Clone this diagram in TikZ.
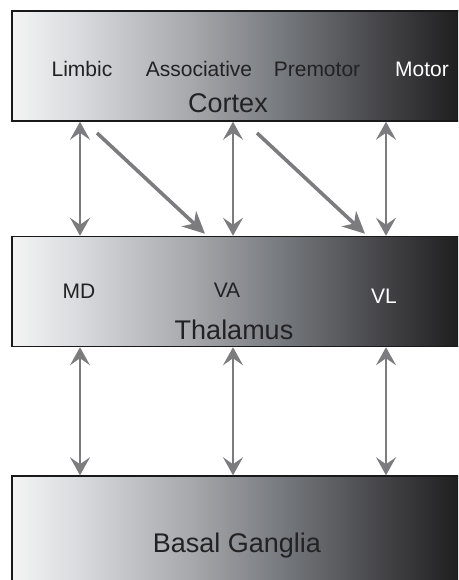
\documentclass[tikz,border=0pt]{standalone}
\usepackage{fontspec}
\setmainfont{Liberation Sans}
\usetikzlibrary{calc,arrows.meta,positioning}

\definecolor{sh0}{RGB}{244,244,244}
\definecolor{sh1}{RGB}{218,220,223}
\definecolor{sh2}{RGB}{166,168,172}
\definecolor{sh3}{RGB}{114,117,121}
\definecolor{sh4}{RGB}{70,70,74}
\definecolor{sh5}{RGB}{30,30,30}
\definecolor{arrowgray}{RGB}{124,124,127}
\definecolor{txtdark}{RGB}{34,34,36}

\pgfdeclarehorizontalshading{brainshade}{100bp}{%
  color(0bp)=(sh0); color(25bp)=(sh0); color(32bp)=(sh1); color(45bp)=(sh2);
  color(56bp)=(sh3); color(66bp)=(sh4); color(75bp)=(sh5); color(100bp)=(sh5)}

\begin{document}
\begin{tikzpicture}[x=1pt,y=1pt,
  region/.style={draw=black!90,line width=1.5pt,shade,shading=brainshade,
    minimum width=448pt,minimum height=110pt,inner sep=0pt},
  lbl/.style={anchor=base,inner sep=0pt,text=txtdark,font=\fontsize{21}{25}\selectfont},
  title/.style={anchor=base,inner sep=0pt,text=txtdark,font=\fontsize{27}{32}\selectfont},
  link/.style={{Stealth[length=18pt,width=20pt,inset=7pt]}-{Stealth[length=18pt,width=20pt,inset=7pt]},
    draw=arrowgray,fill=arrowgray,line width=1.8pt},
  proj/.style={-{Stealth[length=22pt,width=21pt,inset=7pt]},draw=arrowgray,fill=arrowgray,line width=3.6pt}]

  \clip (0,0) rectangle (458,-580);

  % the three boxes
  \node[region] (cortex) at (236,-66) {};
  \node[region] (thalamus) [below=114pt of cortex] {};
  \node[region,minimum height=140pt] (basal) [below=128pt of thalamus] {};

  % cortex
  \node[lbl] (limbic) at (82,-77) {Limbic};
  \node[lbl] (assoc) at (199,-77) {Associative};
  \node[lbl] (premotor) at (317,-77) {Premotor};
  \node[lbl,text=white] (motor) at (422,-77) {Motor};
  \node[title] (ctxname) at (228,-113) {Cortex};

  % thalamus
  \node[lbl] (md) at (79,-298) {MD};
  \node[lbl] (va) at (227,-297) {VA};
  \node[lbl,text=white] (vl) at (384,-303) {VL};
  \node[title] (thname) at (234,-339) {Thalamus};

  % basal ganglia
  \node[title] (bgname) at (237,-552) {Basal Ganglia};

  \coordinate (col1) at (80,0);
  \coordinate (col2) at (233,0);
  \coordinate (col3) at (386,0);
  \coordinate (lim out) at (97,-133);
  \coordinate (pre out) at (257,-133);
  \coordinate (va in) at (205,0);
  \coordinate (vl in) at (365,0);

  \foreach \c in {col1,col2,col3} {
    \draw[link] (cortex.south -| \c) -- (thalamus.north -| \c);
    \draw[link] (thalamus.south -| \c) -- (basal.north -| \c);
  }

  \draw[proj] (lim out) -- ($(thalamus.north -| va in)+(0,2)$);
  \draw[proj] (pre out) -- ($(thalamus.north -| vl in)+(0,2)$);

\end{tikzpicture}
\end{document}
